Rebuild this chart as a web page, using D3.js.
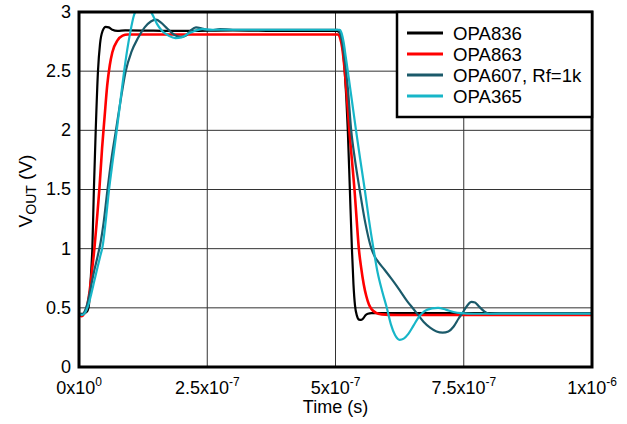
<!DOCTYPE html>
<html>
  <head>
    <meta charset="utf-8" />
    <script src="https://d3js.org/d3.v7.min.js"></script>
    <style>
      body { margin: 0; background: #fff; }
      text { font-family: Arial, "Liberation Sans", sans-serif; fill: #000; }
    </style>
  </head>
  <body>
    <script>
      // time in ns, voltage in V
      const opa836T = [0, 8, 13, 17, 19.5, 22, 24, 26, 29, 32.6, 37, 41, 46, 52, 58, 65, 75, 90, 200, 300, 400, 502,
        506, 510, 514, 518, 521, 524, 528, 532, 535, 538, 542, 546, 550, 554, 558, 563, 570, 600, 800, 1000];
      const opa836V = [0.45, 0.45, 0.46, 0.48, 0.53, 0.68, 0.83, 1.0, 1.5, 2.0, 2.5, 2.73, 2.84, 2.875, 2.87, 2.85, 2.84, 2.845, 2.84, 2.845, 2.84, 2.84,
        2.835, 2.8, 2.7, 2.5, 2.28, 2.0, 1.5, 1.0, 0.7, 0.52, 0.43, 0.4, 0.398, 0.41, 0.435, 0.45, 0.455, 0.455, 0.455, 0.455];

      const opa863T = [0, 5, 10, 15, 20, 25, 30, 35, 40, 45, 50, 55, 60, 65, 75, 85, 95, 200, 300, 400, 505,
        509, 513, 517, 521, 524, 527, 532, 537, 541, 545.5, 550, 555, 560, 565, 570, 578, 590, 620, 800, 1000];
      const opa863V = [0.44, 0.43, 0.45, 0.5, 0.62, 0.8, 1.0, 1.25, 1.52, 1.85, 2.12, 2.38, 2.55, 2.66, 2.76, 2.8, 2.81, 2.81, 2.81, 2.81, 2.81,
        2.78, 2.7, 2.55, 2.35, 2.18, 2.0, 1.75, 1.5, 1.26, 1.0, 0.84, 0.7, 0.6, 0.53, 0.49, 0.46, 0.445, 0.44, 0.44, 0.44];

      const opa607T = [0, 6, 11, 16, 22, 29, 36, 42, 48, 55, 63, 72, 81, 91, 102, 115, 128, 140, 150, 160, 172, 185, 198, 208, 218, 228, 240, 255, 275, 300, 400, 504,
        508, 512, 516, 520, 524, 530.6, 538, 547, 558, 570, 577, 583, 596, 610, 625, 640, 652, 661, 672, 685, 697, 709, 720, 730, 740, 748, 757, 765, 772, 780, 790, 800, 820, 1000];
      const opa607V = [0.45, 0.44, 0.47, 0.53, 0.65, 0.8, 0.93, 1.05, 1.22, 1.48, 1.75, 2.0, 2.25, 2.5, 2.66, 2.78, 2.87, 2.92, 2.935, 2.91, 2.86, 2.81, 2.79, 2.8, 2.845, 2.87, 2.86, 2.845, 2.855, 2.85, 2.85, 2.85,
        2.83, 2.77, 2.66, 2.52, 2.36, 2.0, 1.75, 1.5, 1.22, 1.0, 0.93, 0.89, 0.82, 0.74, 0.65, 0.555, 0.49, 0.44, 0.38, 0.33, 0.3, 0.29, 0.3, 0.34, 0.41, 0.46, 0.52, 0.55, 0.545, 0.51, 0.47, 0.45, 0.455, 0.455];

      const opa365T = [0, 6, 12, 18, 24, 30, 36, 41, 46, 52, 58.6, 66, 73.6, 81, 88, 94, 100, 107, 115, 125, 135, 143, 152, 162, 175, 188, 200, 212, 225, 240, 260, 300, 400, 508,
        512, 516, 520, 524, 532, 540, 548, 557, 565, 574, 582, 591, 600, 608, 616, 625, 633, 642, 652, 662, 673, 688, 700, 715, 730, 745, 770, 1000];
      const opa365V = [0.45, 0.44, 0.46, 0.52, 0.62, 0.73, 0.84, 0.93, 1.02, 1.23, 1.5, 1.75, 2.0, 2.26, 2.5, 2.68, 2.83, 2.97, 3.03, 3.05, 3.03, 2.98, 2.9, 2.84, 2.8, 2.78, 2.785, 2.815, 2.84, 2.855, 2.85, 2.85, 2.85, 2.85,
        2.82, 2.74, 2.62, 2.5, 2.25, 2.0, 1.76, 1.5, 1.25, 1.0, 0.8, 0.64, 0.5, 0.36, 0.27, 0.23, 0.24, 0.28, 0.35, 0.42, 0.47, 0.495, 0.5, 0.485, 0.465, 0.455, 0.45, 0.45];

      const seriesNames = ["OPA836", "OPA863", "OPA607, Rf=1k", "OPA365"];
      const seriesColors = ["#000000", "#ff0000", "#1b5a6a", "#17b6c8"];
      const seriesT = [opa836T, opa863T, opa607T, opa365T];
      const seriesV = [opa836V, opa863V, opa607V, opa365V];

      const xTicks = [0, 2.5e-7, 5e-7, 7.5e-7, 1e-6];
      const xTickBase = ["0x10", "2.5x10", "5x10", "7.5x10", "1x10"];
      const xTickExp = ["0", "-7", "-7", "-7", "-6"];
      const yTicks = [0, 0.5, 1, 1.5, 2, 2.5, 3];

      const W = 627, H = 424;
      const mLeft = 79, mRight = 592, mTop = 12, mBottom = 367;

      const svg = d3.select("body").append("svg")
        .attr("width", W).attr("height", H);

      const x = d3.scaleLinear().domain([0, 1e-6]).range([mLeft, mRight]);
      const y = d3.scaleLinear().domain([0, 3]).range([mBottom, mTop]);

      svg.append("clipPath").attr("id", "plot")
        .append("rect").attr("x", mLeft).attr("y", mTop)
        .attr("width", mRight - mLeft).attr("height", mBottom - mTop);

      // grid
      const grid = svg.append("g").attr("stroke", "#333").attr("stroke-width", 1);
      grid.selectAll(".gx").data(xTicks.slice(1, -1)).join("line")
        .attr("class", "gx")
        .attr("x1", d => x(d)).attr("x2", d => x(d))
        .attr("y1", mTop).attr("y2", mBottom);
      grid.selectAll(".gy").data(yTicks.slice(1, -1)).join("line")
        .attr("class", "gy")
        .attr("x1", mLeft).attr("x2", mRight)
        .attr("y1", d => y(d)).attr("y2", d => y(d));

      // traces
      const line = d3.line()
        .x(d => x(d[0] * 1e-9))
        .y(d => y(d[1]))
        .curve(d3.curveMonotoneX);

      const traces = svg.append("g").attr("clip-path", "url(#plot)");
      seriesNames.forEach((name, i) => {
        const pts = seriesT[i].map((t, j) => [t, seriesV[i][j]]);
        traces.append("path")
          .datum(pts)
          .attr("d", line)
          .attr("fill", "none")
          .attr("stroke", seriesColors[i])
          .attr("stroke-width", i === 1 ? 2.6 : 2.2)
          .attr("stroke-linejoin", "round");
      });

      // frame
      svg.append("rect")
        .attr("x", mLeft).attr("y", mTop)
        .attr("width", mRight - mLeft).attr("height", mBottom - mTop)
        .attr("fill", "none").attr("stroke", "#000").attr("stroke-width", 3);

      // y tick labels
      svg.append("g").selectAll("text").data(yTicks).join("text")
        .attr("x", 71).attr("y", d => y(d))
        .attr("dy", "0.33em")
        .attr("text-anchor", "end")
        .attr("font-size", 18)
        .text(d => d3.format("")(d));

      // x tick labels with exponent
      const xl = svg.append("g").selectAll("text").data(xTicks).join("text")
        .attr("x", d => x(d)).attr("y", 394)
        .attr("text-anchor", "middle")
        .attr("font-size", 18);
      xl.append("tspan").text((d, i) => xTickBase[i]);
      xl.append("tspan").attr("font-size", 12).attr("dy", -8).text((d, i) => xTickExp[i]);

      // axis titles
      svg.append("text")
        .attr("x", (mLeft + mRight) / 2).attr("y", 413)
        .attr("text-anchor", "middle")
        .attr("font-size", 18)
        .text("Time (s)");

      const yt = svg.append("text")
        .attr("transform", "translate(32,191) rotate(-90)")
        .attr("text-anchor", "middle")
        .attr("font-size", 19);
      yt.append("tspan").text("V");
      yt.append("tspan").attr("font-size", 14).attr("dy", 4).text("OUT");
      yt.append("tspan").attr("dy", -4).text(" (V)");

      // legend
      const lg = svg.append("g");
      lg.append("rect")
        .attr("x", 397).attr("y", mTop)
        .attr("width", mRight - 397).attr("height", 105)
        .attr("fill", "#fff").attr("stroke", "#000").attr("stroke-width", 2.5);
      seriesNames.forEach((name, i) => {
        const ly = 33 + i * 21;
        lg.append("line")
          .attr("x1", 407).attr("x2", 443)
          .attr("y1", ly).attr("y2", ly)
          .attr("stroke", seriesColors[i]).attr("stroke-width", 3);
        lg.append("text")
          .attr("x", 453).attr("y", ly).attr("dy", "0.36em")
          .attr("font-size", 18.6)
          .text(name);
      });
    </script>
  </body>
</html>
